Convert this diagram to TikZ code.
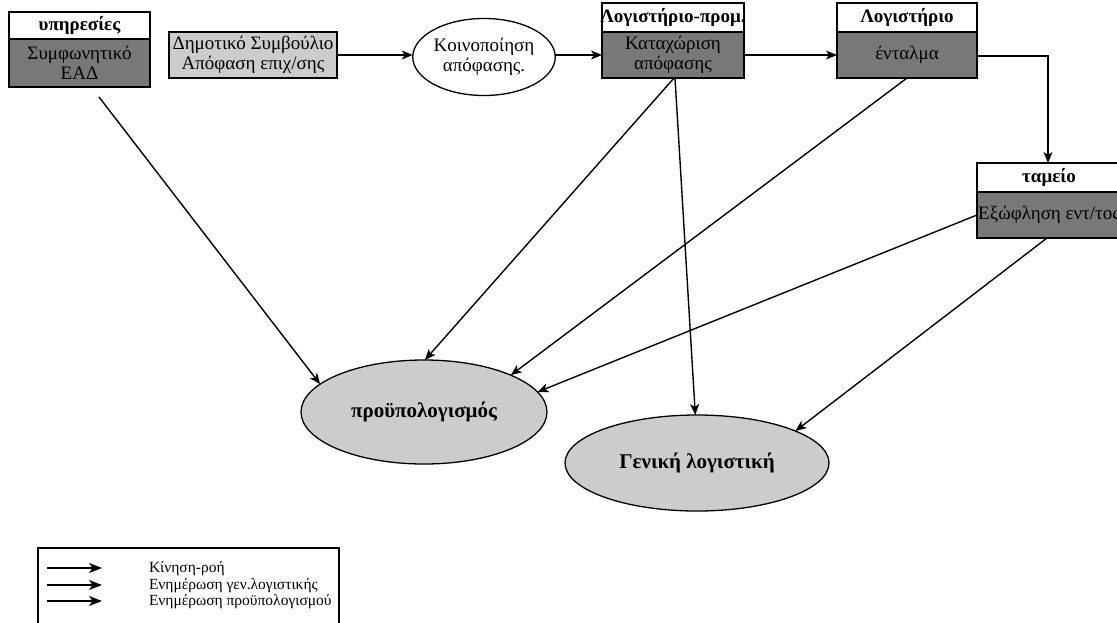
\documentclass[tikz,border=0pt]{standalone}
\usepackage{fontspec}
\setmainfont{Liberation Serif}
\usetikzlibrary{arrows.meta,shapes.geometric}
\definecolor{boxdark}{HTML}{787878}
\definecolor{boxlight}{HTML}{CCCCCC}

\begin{document}
\begin{tikzpicture}[x=1pt,y=-1pt,
  every node/.style={inner sep=0pt,outer sep=0pt},
  hdr/.style={draw=black,line width=1.3pt,fill=white,minimum height=29pt,
    font=\fontsize{19}{20}\selectfont\bfseries,align=center},
  bodybox/.style={draw=black,line width=1.3pt,fill=boxdark,minimum height=46pt,
    font=\fontsize{19}{20}\selectfont,align=center},
  lightbox/.style={draw=black,line width=1.3pt,fill=boxlight,
    font=\fontsize{19}{20}\selectfont,align=center},
  oval/.style={ellipse,draw=black,line width=1.3pt,align=center},
  target/.style={oval,fill=boxlight,font=\fontsize{21}{23}\selectfont\bfseries},
  flow/.style={-{Stealth[length=11pt,width=9pt,inset=3pt]},line width=1.4pt},
  keyflow/.style={-{Stealth[length=13pt,width=10pt,inset=3.5pt]},line width=1.4pt},
  legendtext/.style={anchor=west,font=\fontsize{15.5}{17}\selectfont}
]
\useasboundingbox (0,0) rectangle (1117,622);

% process boxes
\node[bodybox,minimum width=141pt,minimum height=48pt] (svcB) at (79.5,63) {Συμφωνητικό\\ΕΑΔ};
\node[hdr,minimum width=141pt,minimum height=27pt] (svcH) at (79.5,25.5) {υπηρεσίες};

\node[lightbox,minimum width=168pt,minimum height=46pt] (council) at (253,55) {Δημοτικό Συμβούλιο\\Απόφαση επιχ/σης};

\node[oval,fill=white,minimum width=142pt,minimum height=77pt,font=\fontsize{19}{20}\selectfont] (notice) at (484,57) {Κοινοποίηση\\απόφασης.};

\node[bodybox,minimum width=142pt] (procB) at (673,55) {Καταχώριση\\απόφασης};
\node[hdr,minimum width=142pt] (procH) at (673,17.5) {\makebox[0pt]{Λογιστήριο-προμ.}};

\node[bodybox,minimum width=140pt] (accB) at (907,55) {ένταλμα};
\node[hdr,minimum width=140pt] (accH) at (907,17.5) {Λογιστήριο};

\node[bodybox,minimum width=144pt] (cashB) at (1049,215) {\makebox[0pt]{Εξώφληση εντ/τος}};
\node[hdr,minimum width=144pt] (cashH) at (1049,177.5) {ταμείο};

% ledgers
\node[target,minimum width=246pt,minimum height=104pt] (budget) at (424,412) {προϋπολογισμός};
\node[target,minimum width=264pt,minimum height=96pt] (ledger) at (697,463) {Γενική λογιστική};

% main flow
\draw[flow] (council.east) -- (council.east -| notice.west);
\draw[flow] (notice.east |- procB.west) -- (procB.west);
\draw[flow] (procB.east) -- (accB.west);
\draw[flow] ([yshift=-1pt]accB.east) -| ([xshift=-1pt]cashH.north);

% postings
\draw[flow] ([xshift=19.5pt,yshift=-10pt]svcB.south) -- (budget.165.7);
\draw[flow] ([xshift=1pt]procB.south) -- (budget.89);
\draw[flow] ([xshift=2pt]procB.south) -- (ledger.92);
\draw[flow] (accB.south) -- (budget.23.9);
\draw[flow] (cashB.west) -- (budget.10.5);
\draw[flow] ([xshift=-2pt]cashB.south) -- (ledger.18.4);

% legend
\node[draw=black,line width=1.2pt,minimum width=301pt,minimum height=100pt,anchor=north west] (legend) at (38,548) {};
\coordinate (l1a) at (47,568); \coordinate (l1b) at (102,568);
\coordinate (l2a) at (47,585); \coordinate (l2b) at (102,585);
\coordinate (l3a) at (47,601); \coordinate (l3b) at (102,601);
\draw[keyflow] (l1a) -- (l1b);
\draw[keyflow] (l2a) -- (l2b);
\draw[keyflow] (l3a) -- (l3b);
\node[legendtext] (lt1) at (149,569) {Κίνηση-ροή};
\node[legendtext] (lt2) at (149,586) {Ενημέρωση γεν.λογιστικής};
\node[legendtext] (lt3) at (149,602) {Ενημέρωση προϋπολογισμού};
\end{tikzpicture}
\end{document}
